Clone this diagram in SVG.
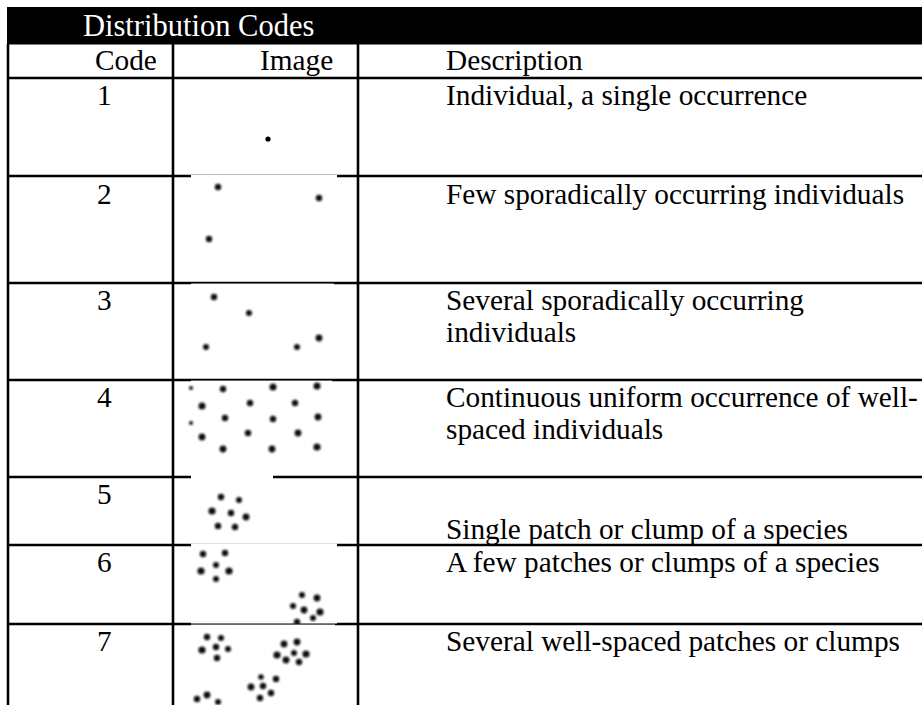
<svg xmlns="http://www.w3.org/2000/svg" width="922" height="705" viewBox="0 0 922 705">
<style>
.t{font-family:"Liberation Serif","Times New Roman",serif;font-size:29.3px;fill:#000}
.h{font-family:"Liberation Serif","Times New Roman",serif;font-size:30.5px;fill:#fff}
.ln{stroke:#000;stroke-width:2.6;fill:none}
.dot{fill:#111;filter:url(#soft)}
</style>
<defs>
<filter id="soft" x="-1" y="-1" width="3" height="3"><feGaussianBlur stdDeviation="1.1"/></filter>
</defs>
<rect width="922" height="705" fill="#fff"/>
<g id="header">
<rect x="7" y="7" width="915" height="37.5" fill="#000"/>
<text class="h" x="83" y="36">Distribution Codes</text>
</g>
<g id="grid">
<line class="ln" x1="8" y1="44" x2="8" y2="705"/>
<line class="ln" x1="173" y1="44" x2="173" y2="705"/>
<line class="ln" x1="358" y1="44" x2="358" y2="705"/>
<line class="ln" x1="7" y1="78" x2="922" y2="78"/>
<line class="ln" x1="7" y1="176" x2="922" y2="176"/>
<line class="ln" x1="7" y1="283" x2="922" y2="283"/>
<line class="ln" x1="7" y1="380" x2="922" y2="380"/>
<line class="ln" x1="7" y1="477" x2="922" y2="477"/>
<line class="ln" x1="7" y1="545" x2="922" y2="545"/>
<line class="ln" x1="7" y1="624" x2="922" y2="624"/>
</g>
<g id="colheads">
<text class="t" x="95" y="70">Code</text>
<text class="t" x="260" y="70">Image</text>
<text class="t" x="446" y="70">Description</text>
</g>
<g id="row1">
<text class="t" x="97" y="105">1</text>
<circle cx="268" cy="139" r="2.6" fill="#000"/>
<text class="t" x="446" y="105">Individual, a single occurrence</text>
</g>
<g id="row2">
<rect x="191" y="175" width="146" height="72" fill="#fff"/>
<text class="t" x="97" y="204">2</text>
<circle class="dot" cx="218" cy="187" r="3.2"/>
<circle class="dot" cx="319" cy="198" r="3.2"/>
<circle class="dot" cx="209" cy="239" r="3.2"/>
<text class="t" x="446" y="204">Few sporadically occurring individuals</text>
</g>
<g id="row3">
<rect x="191" y="283.6" width="143" height="75" fill="#fff"/>
<text class="t" x="97" y="310">3</text>
<circle class="dot" cx="214" cy="297" r="3.2"/>
<circle class="dot" cx="249" cy="313" r="3"/>
<circle class="dot" cx="206" cy="347" r="3"/>
<circle class="dot" cx="297" cy="347" r="3"/>
<circle class="dot" cx="319" cy="338" r="3.4"/>
<text class="t" x="446" y="310">Several sporadically occurring</text>
<text class="t" x="446" y="342">individuals</text>
</g>
<g id="row4">
<rect x="191" y="380.6" width="141" height="74" fill="#fff"/>
<text class="t" x="97" y="407">4</text>
<circle class="dot" cx="191" cy="388" r="2"/>
<circle class="dot" cx="223" cy="389" r="3.2"/>
<circle class="dot" cx="273" cy="387" r="3.5"/>
<circle class="dot" cx="317" cy="386" r="3.5"/>
<circle class="dot" cx="202" cy="406" r="3.5"/>
<circle class="dot" cx="250" cy="403" r="3.2"/>
<circle class="dot" cx="295" cy="403" r="3.2"/>
<circle class="dot" cx="191" cy="423" r="2"/>
<circle class="dot" cx="225" cy="418" r="3.2"/>
<circle class="dot" cx="273" cy="419" r="3.2"/>
<circle class="dot" cx="318" cy="417" r="3.4"/>
<circle class="dot" cx="202" cy="437" r="3.4"/>
<circle class="dot" cx="248" cy="433" r="3.2"/>
<circle class="dot" cx="298" cy="433" r="3.4"/>
<circle class="dot" cx="223" cy="449" r="3.4"/>
<circle class="dot" cx="272" cy="449" r="3.4"/>
<circle class="dot" cx="317" cy="447" r="3.6"/>
<text class="t" x="446" y="407">Continuous uniform occurrence of well-</text>
<text class="t" x="446" y="439">spaced individuals</text>
</g>
<g id="row5">
<rect x="191" y="475" width="82" height="58" fill="#fff"/>
<text class="t" x="97" y="504">5</text>
<circle class="dot" cx="221" cy="497" r="3.2"/>
<circle class="dot" cx="239" cy="500" r="3"/>
<circle class="dot" cx="212" cy="511" r="3.6"/>
<circle class="dot" cx="231" cy="513" r="3.2"/>
<circle class="dot" cx="246" cy="517" r="3.4"/>
<circle class="dot" cx="218" cy="526" r="3.2"/>
<circle class="dot" cx="235" cy="527" r="3.2"/>
<text class="t" x="446" y="539">Single patch or clump of a species</text>
</g>
<g id="row6">
<rect x="191" y="543.5" width="146" height="80" fill="#fff"/>
<text class="t" x="97" y="572">6</text>
<circle class="dot" cx="203" cy="554" r="3.2"/>
<circle class="dot" cx="225" cy="553" r="3.2"/>
<circle class="dot" cx="216" cy="565" r="3"/>
<circle class="dot" cx="201" cy="571" r="3.6"/>
<circle class="dot" cx="229" cy="571" r="3.6"/>
<circle class="dot" cx="216" cy="579" r="3"/>
<circle class="dot" cx="302" cy="595" r="3"/>
<circle class="dot" cx="317" cy="598" r="3.4"/>
<circle class="dot" cx="293" cy="606" r="3"/>
<circle class="dot" cx="304" cy="610" r="3.4"/>
<circle class="dot" cx="320" cy="612" r="3.6"/>
<circle class="dot" cx="297" cy="622" r="3.2"/>
<circle class="dot" cx="313" cy="618" r="3"/>
<text class="t" x="446" y="572">A few patches or clumps of a species</text>
</g>
<g id="row7">
<rect x="191" y="624.6" width="144" height="81" fill="#fff"/>
<text class="t" x="97" y="651">7</text>
<circle class="dot" cx="207" cy="637" r="3.2"/>
<circle class="dot" cx="221" cy="638" r="3"/>
<circle class="dot" cx="202" cy="650" r="3.6"/>
<circle class="dot" cx="216" cy="647" r="3.2"/>
<circle class="dot" cx="228" cy="649" r="3"/>
<circle class="dot" cx="217" cy="658" r="3.2"/>
<circle class="dot" cx="284" cy="644" r="3.4"/>
<circle class="dot" cx="297" cy="642" r="3.4"/>
<circle class="dot" cx="277" cy="655" r="3.6"/>
<circle class="dot" cx="294" cy="653" r="3"/>
<circle class="dot" cx="306" cy="654" r="3.6"/>
<circle class="dot" cx="286" cy="660" r="3.4"/>
<circle class="dot" cx="299" cy="662" r="3.2"/>
<circle class="dot" cx="261" cy="677" r="2.8"/>
<circle class="dot" cx="276" cy="679" r="3.2"/>
<circle class="dot" cx="251" cy="687" r="3.4"/>
<circle class="dot" cx="263" cy="686" r="3.2"/>
<circle class="dot" cx="271" cy="693" r="3.2"/>
<circle class="dot" cx="260" cy="698" r="3.2"/>
<circle class="dot" cx="207" cy="695" r="3.4"/>
<circle class="dot" cx="197" cy="699" r="3.2"/>
<circle class="dot" cx="218" cy="702" r="3"/>
<text class="t" x="446" y="651">Several well-spaced patches or clumps</text>
</g>
</svg>
